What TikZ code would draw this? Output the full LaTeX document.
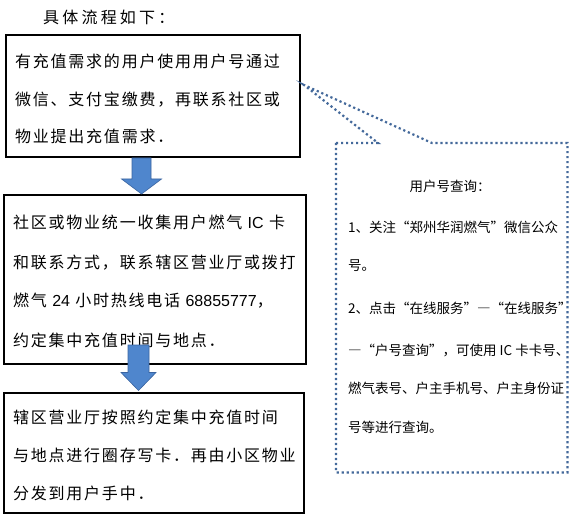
\documentclass[tikz,border=0pt]{standalone}
\usepackage{fontspec}
\setmainfont{Liberation Sans}
\newfontfamily\boxfont[LetterSpace=11]{Noto Sans CJK SC}
\newfontfamily\titlefont[LetterSpace=20]{Noto Sans CJK SC}
\newfontfamily\notefont{Noto Sans CJK SC}
\newfontfamily\latinfont{Liberation Sans}
\newcommand{\lat}[1]{{\latinfont #1}}
\newcommand{\fwdash}{{\addfontfeature{RawFeature=+fwid}—}}
\usetikzlibrary{calc}
\definecolor{arrowfill}{RGB}{79,134,205}
\definecolor{arrowline}{RGB}{58,100,160}
\definecolor{dotblue}{RGB}{68,105,155}
\begin{document}
\begin{tikzpicture}[x=1pt,y=-1pt,
  stepbox/.style={draw=black,line width=2pt,anchor=north west,inner sep=0pt},
  boxtext/.style={anchor=base west,inner sep=0pt,font=\boxfont\fontsize{16}{16}\selectfont},
  titletext/.style={anchor=base west,inner sep=0pt,font=\titlefont\fontsize{16}{16}\selectfont},
  notetext/.style={anchor=base west,inner sep=0pt,font=\notefont\fontsize{13.5}{13.5}\selectfont},
  blockarrow/.style={fill=arrowfill,draw=arrowline,line width=0.6pt},
  callout/.style={draw=dotblue,line width=2.2pt,dash pattern=on 2.2pt off 2.8pt}]
\useasboundingbox (0,0) rectangle (584,516);
\fill[white] (0,0) rectangle (584,516);

% title
\node[titletext] (title) at (43,24) {具体流程如下：};

% boxes
\node[stepbox,minimum width=294pt,minimum height=122pt] (b1) at (5,34) {};
\node[stepbox,minimum width=302pt,minimum height=169pt] (b2) at (3,194) {};
\node[stepbox,minimum width=300pt,minimum height=120pt] (b3) at (3,392) {};

% box texts
\node[boxtext] (t11) at (15,68) {有充值需求的用户使用用户号通过};
\node[boxtext] (t12) at (15,106) {微信、支付宝缴费，再联系社区或};
\node[boxtext] (t13) at (15,143) {物业提出充值需求．};

\node[boxtext] (t21) at (13,228) {社区或物业统一收集用户燃气 \lat{IC} 卡};
\node[boxtext] (t22) at (13,268) {和联系方式，联系辖区营业厅或拨打};
\node[boxtext] (t23) at (13,306) {燃气 \lat{24} 小时热线电话 \lat{68855777}，};
\node[boxtext] (t24) at (13,346) {约定集中充值时间与地点．};

\node[boxtext] (t31) at (13,423) {辖区营业厅按照约定集中充值时间};
\node[boxtext] (t32) at (13,461) {与地点进行圈存写卡．再由小区物业};
\node[boxtext] (t33) at (13,499) {分发到用户手中．};

% block arrows
\coordinate (a1s) at ($(b1.south west)+(136.5,0)$);
\coordinate (a1e) at (a1s |- b2.north);
\draw[blockarrow] ($(a1s)+(-9.5,0)$) -- ($(a1e)+(-9.5,-15)$) -- ($(a1e)+(-20,-15)$)
  -- (a1e) -- ($(a1e)+(20,-15)$) -- ($(a1e)+(9.5,-15)$) -- ($(a1s)+(9.5,0)$) -- cycle;

\coordinate (a2s) at ($(b2.south west)+(135.5,-20)$);
\coordinate (a2e) at ($(a2s |- b3.north)+(0,-1.5)$);
\draw[blockarrow] ($(a2s)+(-10.5,0)$) -- ($(a2e)+(-10.5,-18)$) -- ($(a2e)+(-17.5,-18)$)
  -- (a2e) -- ($(a2e)+(17.5,-18)$) -- ($(a2e)+(10.5,-18)$) -- ($(a2s)+(10.5,0)$) -- cycle;

% callout
\node[anchor=north west,minimum width=231pt,minimum height=329pt,inner sep=0pt] (note) at (336,143) {};
\coordinate (tip) at ($(b1.east)+(3,-11)$);
\draw[callout] (note.north west) -- ($(note.north west)+(42,0)$) -- (tip)
  -- ($(note.north west)+(96,0)$) -- (note.north east) -- (note.south east)
  -- (note.south west) -- cycle;

\node[notetext,anchor=base] (n0) at (450,192) {用户号查询：};
\node[notetext] (n1) at (348,233) {1、关注“郑州华润燃气”微信公众};
\node[notetext] (n2) at (348,270) {号。};
\node[notetext] (n3) at (348,313) {2、点击“在线服务”\fwdash“在线服务”};
\node[notetext] (n4) at (348,355) {\fwdash“户号查询”，可使用 IC 卡卡号、};
\node[notetext] (n5) at (348,393) {燃气表号、户主手机号、户主身份证};
\node[notetext] (n6) at (348,432) {号等进行查询。};
\end{tikzpicture}
\end{document}
